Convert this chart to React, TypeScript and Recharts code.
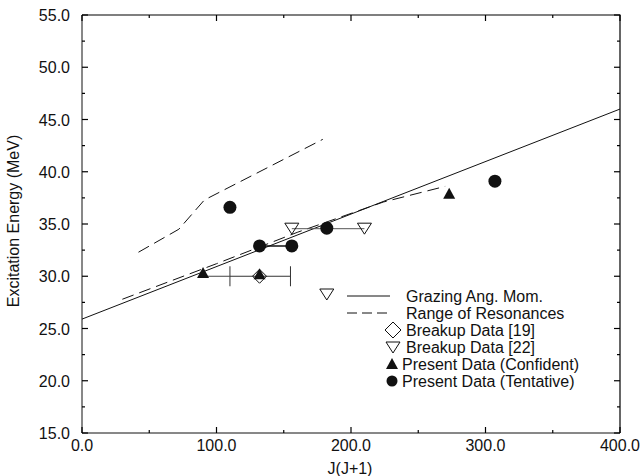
import { ScatterChart, Scatter, XAxis, YAxis, ErrorBar } from 'recharts';

// J(J+1) vs excitation energy (MeV)
const grazing = [
	{ x: 0, y: 25.9 },
	{ x: 400, y: 46.0 },
];
const resonanceUpper = [
	{ x: 42, y: 32.3 },
	{ x: 72, y: 34.5 },
	{ x: 91, y: 37.3 },
	{ x: 179, y: 43.1 },
];
const resonanceLower = [
	{ x: 30, y: 27.8 },
	{ x: 100, y: 31.2 },
	{ x: 160, y: 34.2 },
	{ x: 224, y: 37.1 },
	{ x: 270, y: 38.6 },
];
const breakup19 = [{ x: 132, y: 30.0, err: [22, 23] }];
const breakup22 = [
	{ x: 156, y: 34.6 },
	{ x: 210, y: 34.6 },
	{ x: 182, y: 28.3 },
];
const confident = [
	{ x: 90, y: 30.3 },
	{ x: 132, y: 30.2 },
	{ x: 273, y: 37.9 },
];
const tentative = [
	{ x: 110, y: 36.6 },
	{ x: 132, y: 32.9 },
	{ x: 156, y: 32.9 },
	{ x: 182, y: 34.6 },
	{ x: 307, y: 39.1 },
];
// horizontal bars linking points
const linkConfident = [
	{ x: 90, y: 30.0 },
	{ x: 110, y: 30.0 },
];
const linkTentative = [
	{ x: 132, y: 32.9 },
	{ x: 156, y: 32.9 },
];
const rangeTentative = [
	{ x: 156, y: 34.55 },
	{ x: 210, y: 34.55 },
];

const xRange = [0, 400];
const yRange = [15, 55];
const xTicks = [0, 50, 100, 150, 200, 250, 300, 350, 400];
const yTicks = [15, 17.5, 20, 22.5, 25, 27.5, 30, 32.5, 35, 37.5, 40, 42.5, 45, 47.5, 50, 52.5, 55];
const legendLabels = [
	'Grazing Ang. Mom.',
	'Range of Resonances',
	'Breakup Data [19]',
	'Breakup Data [22]',
	'Present Data (Confident)',
	'Present Data (Tentative)',
];

// frame corners and tick anchor points on the four sides of the plot
const frame = [
	{ x: xRange[0], y: yRange[1] },
	{ x: xRange[1], y: yRange[1] },
	{ x: xRange[1], y: yRange[0] },
];
const xTickMarks = xTicks.flatMap((t) => [
	{ x: t, y: yRange[0], side: 'bottom' },
	{ x: t, y: yRange[1], side: 'top' },
]);
const yTickMarks = yTicks.flatMap((t) => [
	{ x: xRange[0], y: t, side: 'left' },
	{ x: xRange[1], y: t, side: 'right' },
]);

const ink = '#111';
const font = '"Liberation Sans", Arial, Helvetica, sans-serif';

const BottomTick = ({ x, y, payload }: any) =>
	payload.value % 100 === 0 ? (
		<text x={x} y={y + 18} textAnchor='middle' fontSize={16} fontFamily={font} fill={ink}>
			{payload.value.toFixed(1)}
		</text>
	) : (
		<g />
	);
const LeftTick = ({ x, y, payload }: any) =>
	payload.value % 5 === 0 ? (
		<text x={x - 12} y={y + 6} textAnchor='end' fontSize={16} fontFamily={font} fill={ink}>
			{payload.value.toFixed(1)}
		</text>
	) : (
		<g />
	);

const TickMark = (p: any) => {
	const { cx, cy, payload } = p;
	const side = payload ? payload.side : '';
	const major =
		side === 'top' || side === 'bottom' ? payload.x % 100 === 0 : payload && payload.y % 5 === 0;
	const len = major ? 6 : 3;
	if (side === 'bottom')
		return <line x1={cx} x2={cx} y1={cy} y2={cy - len} stroke='#000' strokeWidth={1.2} />;
	if (side === 'top')
		return <line x1={cx} x2={cx} y1={cy} y2={cy + len} stroke='#000' strokeWidth={1.2} />;
	if (side === 'left')
		return <line x1={cx} x2={cx + len} y1={cy} y2={cy} stroke='#000' strokeWidth={1.2} />;
	return <line x1={cx} x2={cx - len} y1={cy} y2={cy} stroke='#000' strokeWidth={1.2} />;
};

const noDot = () => <g />;
const Dot = ({ cx, cy }: any) => <circle cx={cx} cy={cy} r={6.5} fill={ink} />;
const TriUp = ({ cx, cy }: any) => (
	<polygon points={`${cx},${cy - 6} ${cx - 6},${cy + 5} ${cx + 6},${cy + 5}`} fill={ink} />
);
const TriDown = ({ cx, cy }: any) => (
	<polygon
		points={`${cx - 7},${cy - 5} ${cx + 7},${cy - 5} ${cx},${cy + 6}`}
		fill='none'
		stroke={ink}
	/>
);
const Diamond = ({ cx, cy }: any) => (
	<polygon
		points={`${cx},${cy - 7} ${cx + 7},${cy} ${cx},${cy + 7} ${cx - 7},${cy}`}
		fill='none'
		stroke={ink}
	/>
);

const LegendBox = () => {
	const row = (i: number) => 9 + i * 17;
	return (
		<svg width={250} height={106} style={{ display: 'block' }}>
			<line x1={7} x2={50} y1={row(0)} y2={row(0)} stroke={ink} />
			<line x1={7} x2={50} y1={row(1)} y2={row(1)} stroke={ink} strokeDasharray='10 5' />
			<polygon
				points={`53,${row(2) - 8} 61,${row(2)} 53,${row(2) + 8} 45,${row(2)}`}
				fill='none'
				stroke={ink}
			/>
			<polygon
				points={`46,${row(3) - 5} 60,${row(3) - 5} 53,${row(3) + 6}`}
				fill='none'
				stroke={ink}
			/>
			<polygon points={`52,${row(4) - 6} 46,${row(4) + 5} 58,${row(4) + 5}`} fill={ink} />
			<circle cx={52} cy={row(5)} r={5.5} fill={ink} />
			{legendLabels.map((t, i) => (
				<text
					key={t}
					x={i < 4 ? 66 : 62}
					y={row(i) + 6}
					fontSize={16}
					fontFamily={font}
					fill={ink}
				>
					{t}
				</text>
			))}
		</svg>
	);
};

const App = () => {
	return (
		<div style={{ position: 'absolute', left: 0, top: 0, width: 644, height: 476 }}>
			<ScatterChart
				width={644}
				height={476}
				margin={{ top: 15, right: 24, left: 8, bottom: 0 }}
			>
				<XAxis
					type='number'
					dataKey='x'
					domain={xRange}
					ticks={xTicks}
					interval={0}
					height={43}
					tickSize={0}
					tickMargin={0}
					tickLine={false}
					tick={<BottomTick />}
					axisLine={{ stroke: ink }}
				/>
				<YAxis
					type='number'
					dataKey='y'
					domain={yRange}
					ticks={yTicks}
					interval={0}
					width={74}
					tickSize={0}
					tickMargin={0}
					tickLine={false}
					tick={<LeftTick />}
					axisLine={{ stroke: ink }}
				/>

				{/* closing frame (top, right) and inward ticks on all four sides */}
				<Scatter
					data={frame}
					line={{ stroke: '#000', strokeWidth: 1.2 }}
					shape={noDot}
					isAnimationActive={false}
				/>
				<Scatter data={xTickMarks} shape={<TickMark />} isAnimationActive={false} />
				<Scatter data={yTickMarks} shape={<TickMark />} isAnimationActive={false} />

				<Scatter
					name='Grazing Ang. Mom.'
					data={grazing}
					line={{ stroke: ink, strokeWidth: 1 }}
					shape={noDot}
					isAnimationActive={false}
				/>
				<Scatter
					name='Range of Resonances'
					data={resonanceUpper}
					line={{ stroke: ink, strokeWidth: 1, strokeDasharray: '12 6' }}
					shape={noDot}
					isAnimationActive={false}
				/>
				<Scatter
					data={resonanceLower}
					line={{ stroke: ink, strokeWidth: 1, strokeDasharray: '12 6' }}
					shape={noDot}
					isAnimationActive={false}
				/>
				<Scatter
					data={linkConfident}
					line={{ stroke: '#444', strokeWidth: 1 }}
					shape={noDot}
					isAnimationActive={false}
				/>
				<Scatter
					data={linkTentative}
					line={{ stroke: ink, strokeWidth: 1.5 }}
					shape={noDot}
					isAnimationActive={false}
				/>
				<Scatter
					data={rangeTentative}
					line={{ stroke: '#555', strokeWidth: 1 }}
					shape={noDot}
					isAnimationActive={false}
				/>
				<Scatter name='Breakup Data [19]' data={breakup19} shape={<Diamond />} isAnimationActive={false}>
					<ErrorBar dataKey='err' direction='x' width={10} stroke='#333' strokeWidth={1} />
				</Scatter>
				<Scatter name='Breakup Data [22]' data={breakup22} shape={<TriDown />} isAnimationActive={false} />
				<Scatter name='Present Data (Confident)' data={confident} shape={<TriUp />} isAnimationActive={false} />
				<Scatter name='Present Data (Tentative)' data={tentative} shape={<Dot />} isAnimationActive={false} />
			</ScatterChart>

			{/* axis titles and key, laid over the chart */}
			<svg
				width={644}
				height={476}
				style={{ position: 'absolute', left: 0, top: 0, pointerEvents: 'none' }}
			>
				<text x={350} y={474} textAnchor='middle' fontSize={16} fontFamily={font} fill={ink}>
					J(J+1)
				</text>
				<text
					x={19}
					y={221}
					transform='rotate(-90 19 221)'
					textAnchor='middle'
					fontSize={16}
					fontFamily={font}
					fill={ink}
				>
					Excitation Energy (MeV)
				</text>
			</svg>
			<div style={{ position: 'absolute', left: 340, top: 287, pointerEvents: 'none' }}>
				<LegendBox />
			</div>
		</div>
	);
};

export default App;
